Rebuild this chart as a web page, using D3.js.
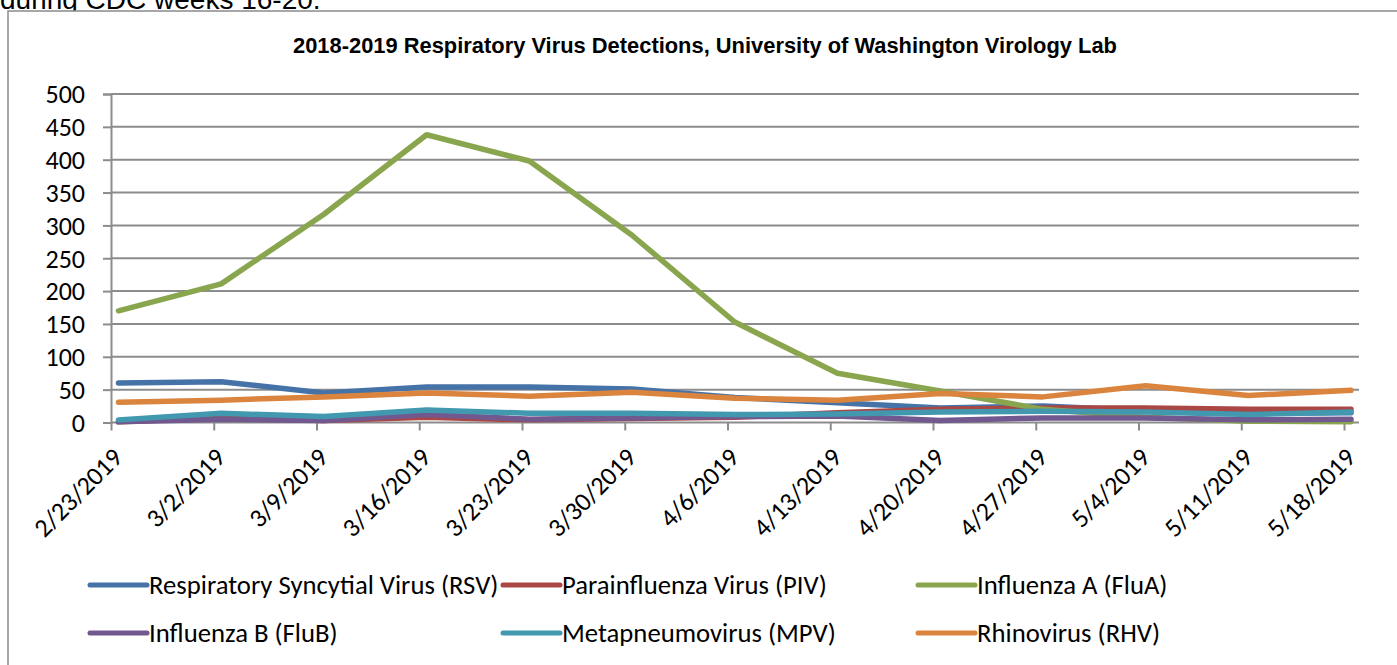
<!DOCTYPE html>
<html>
<head>
<meta charset="utf-8">
<script src="https://cdn.jsdelivr.net/npm/d3@7"></script>
<style>
  html, body { margin: 0; padding: 0; background: #fff; }
  svg { display: block; }
</style>
</head>
<body>
<svg id="chart" width="1397" height="665"></svg>
<script>
// Weekly detection counts by virus, UW Virology Lab
const weeks = ["2/23/2019", "3/2/2019", "3/9/2019", "3/16/2019", "3/23/2019", "3/30/2019",
               "4/6/2019", "4/13/2019", "4/20/2019", "4/27/2019", "5/4/2019", "5/11/2019", "5/18/2019"];
const rsv  = [60, 62, 45, 54, 54, 51, 38, 30, 22, 25, 18, 14, 15];
const piv  = [1, 7, 3, 8, 4, 6, 8, 15, 20, 22, 22, 20, 20];
const fluA = [170, 211, 317, 438, 398, 285, 153, 75, 48, 20, 8, 2, 1];
const fluB = [1, 5, 3, 12, 5, 7, 9, 10, 3, 7, 7, 4, 5];
const mpv  = [4, 14, 9, 19, 14, 14, 12, 13, 16, 17, 16, 12, 16];
const rhv  = [31, 34, 39, 45, 40, 46, 37, 34, 44, 39, 56, 41, 49];
const yTicks = [0, 50, 100, 150, 200, 250, 300, 350, 400, 450, 500];

const seriesNames = ["Respiratory Syncytial Virus (RSV)", "Parainfluenza Virus (PIV)", "Influenza A (FluA)",
                     "Influenza B (FluB)", "Metapneumovirus (MPV)", "Rhinovirus (RHV)"];
const seriesValues = [rsv, piv, fluA, fluB, mpv, rhv];
const seriesColors = ["#4572A7", "#AA4643", "#89A54E", "#71588F", "#4198AF", "#DB843D"];

const svg = d3.select("#chart");
const labelFont = "Carlito, Calibri, 'Open Sans', sans-serif";
const labelSize = 26;
const legendSize = 26.7;

// caption text from the surrounding document, clipped by the top edge
svg.append("text")
  .attr("x", 0).attr("y", 9)
  .attr("font-family", "'Liberation Sans', Arial, sans-serif")
  .attr("font-size", 28)
  .attr("fill", "#000")
  .text("during CDC weeks 16-20.");

// chart frame
svg.append("rect")
  .attr("x", 8).attr("y", 11).attr("width", 1400).attr("height", 670)
  .attr("fill", "#fff").attr("stroke", "#8a8a8a").attr("stroke-width", 1.5);

// title
svg.append("text")
  .attr("x", 705).attr("y", 53)
  .attr("text-anchor", "middle")
  .attr("font-family", "'Liberation Sans Narrow', 'Arial Narrow', 'Liberation Sans', Arial, sans-serif")
  .attr("font-weight", "bold")
  .attr("font-size", 22)
  .attr("textLength", 824)
  .attr("lengthAdjust", "spacingAndGlyphs")
  .attr("fill", "#000")
  .text("2018-2019 Respiratory Virus Detections, University of Washington Virology Lab");

const plotLeft = 111, plotRight = 1359;
const y = d3.scaleLinear().domain([0, 500]).range([422.5, 94]);
const x = d3.scalePoint().domain(weeks).range([118.5, 1351]);
// category tick marks sit slightly left of the plotted points
const xTick = d3.scalePoint().domain(weeks).range([111, 1344]);

// horizontal gridlines
svg.append("g")
  .selectAll("line")
  .data(yTicks.filter(d => d > 0))
  .join("line")
  .attr("x1", plotLeft).attr("x2", plotRight)
  .attr("y1", d => y(d)).attr("y2", d => y(d))
  .attr("stroke", "#8c8c8c").attr("stroke-width", 2);

// y axis
const yAxis = svg.append("g")
  .attr("transform", `translate(${plotLeft},0)`)
  .call(d3.axisLeft(y).tickValues(yTicks).tickSize(8).tickPadding(18));
yAxis.select(".domain").attr("stroke", "#8c8c8c").attr("stroke-width", 2);
yAxis.selectAll(".tick line").attr("stroke", "#8c8c8c").attr("stroke-width", 2);
yAxis.selectAll(".tick text")
  .attr("font-family", labelFont).attr("font-size", labelSize).attr("fill", "#000")
  .attr("dy", "0.34em");

// x axis baseline
svg.append("line")
  .attr("x1", plotLeft).attr("x2", plotRight)
  .attr("y1", y(0)).attr("y2", y(0))
  .attr("stroke", "#8c8c8c").attr("stroke-width", 2);

const xAxis = svg.append("g")
  .attr("transform", `translate(0,${y(0)})`)
  .call(d3.axisBottom(xTick).tickSize(8).tickFormat(""));
xAxis.select(".domain").remove();
xAxis.selectAll(".tick line").attr("stroke", "#8c8c8c").attr("stroke-width", 2);

// rotated date labels
svg.append("g")
  .selectAll("text")
  .data(weeks)
  .join("text")
  .attr("transform", d => `translate(${xTick(d) + 13},${459}) rotate(-45)`)
  .attr("text-anchor", "end")
  .attr("font-family", labelFont).attr("font-size", labelSize).attr("fill", "#000")
  .text(d => d);

// series lines
const line = d3.line()
  .x((d, i) => x(weeks[i]))
  .y(d => y(d));

svg.append("g")
  .selectAll("path")
  .data(seriesValues)
  .join("path")
  .attr("d", d => line(d))
  .attr("fill", "none")
  .attr("stroke", (d, i) => seriesColors[i])
  .attr("stroke-width", 5.5)
  .attr("stroke-linecap", "round")
  .attr("stroke-linejoin", "round");

// legend: two rows of three
const legendCols = [90, 503, 918];
const legendRows = [585, 633];
const legend = svg.append("g")
  .selectAll("g")
  .data(seriesNames)
  .join("g")
  .attr("transform", (d, i) => `translate(${legendCols[i % 3]},${legendRows[Math.floor(i / 3)]})`);
legend.append("line")
  .attr("x1", 0).attr("x2", 57).attr("y1", 0).attr("y2", 0)
  .attr("stroke", (d, i) => seriesColors[i])
  .attr("stroke-width", 5).attr("stroke-linecap", "round");
legend.append("text")
  .attr("x", 59).attr("y", 0).attr("dy", "0.34em")
  .attr("font-family", labelFont).attr("font-size", legendSize).attr("fill", "#000")
  .text(d => d);
</script>
</body>
</html>
